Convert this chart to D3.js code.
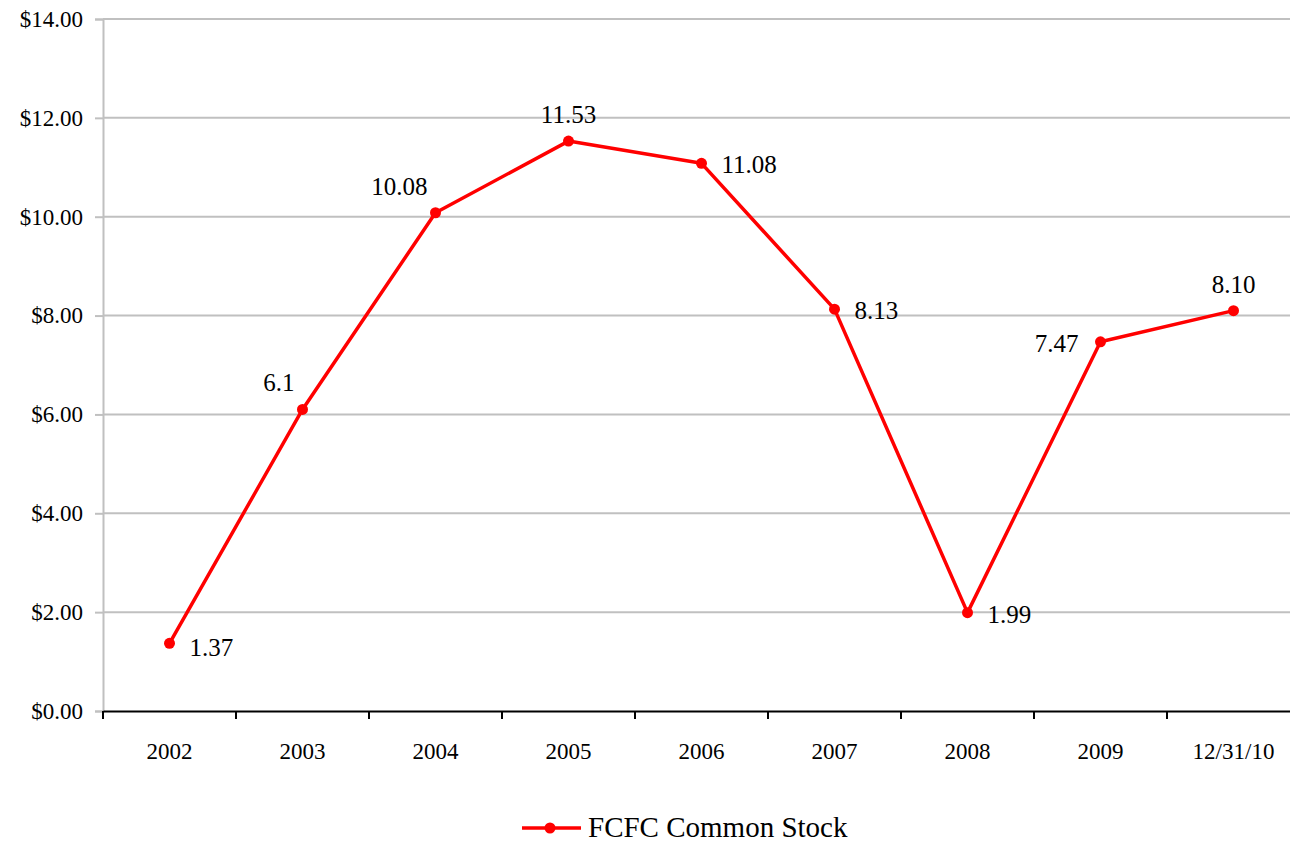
<!DOCTYPE html>
<html><head><meta charset="utf-8">
<script src="https://cdn.jsdelivr.net/npm/d3@7"></script>
<style>body{margin:0;background:#fff}svg{display:block}</style>
</head><body><svg id="c" width="1290" height="845" font-family="Liberation Serif"></svg>
<script>
const categories = ["2002","2003","2004","2005","2006","2007","2008","2009","12/31/10"];
const values = [1.37, 6.1, 10.08, 11.53, 11.08, 8.13, 1.99, 7.47, 8.10];
const labels = ["1.37","6.1","10.08","11.53","11.08","8.13","1.99","7.47","8.10"];
const labelPos = ["br","tl","tl","t","r","r","r","l","t"];
const yTicks = [0,2,4,6,8,10,12,14];
const seriesName = "FCFC Common Stock";
const FONT = "Liberation Serif, Times New Roman, serif";

const svg = d3.select("#c");
const L=103, R=1300, T=19, B=711;
const x = d3.scaleBand().domain(categories).range([L,R]);
const y = d3.scaleLinear().domain([0,14]).range([B,T]);

svg.append("g").selectAll("line").data(yTicks.filter(d=>d>0)).join("line")
  .attr("x1",L).attr("x2",R).attr("y1",d=>y(d)).attr("y2",d=>y(d))
  .attr("stroke","#c0c0c0").attr("stroke-width",2);
const ya = svg.append("g").attr("transform",`translate(${L},0)`)
  .call(d3.axisLeft(y).tickValues(yTicks).tickFormat(d=>"$"+d.toFixed(2)).tickSize(8).tickPadding(12));
ya.attr("font-family",FONT).attr("font-size",23);
ya.select(".domain").attr("stroke","#c0c0c0").attr("stroke-width",2);
ya.selectAll(".tick line").attr("stroke","#c0c0c0").attr("stroke-width",2);
ya.selectAll("text").attr("fill","#000");
const xa = svg.append("g").attr("transform",`translate(0,${B})`)
  .call(d3.axisBottom(x).tickSize(0).tickPadding(32));
xa.attr("font-family",FONT).attr("font-size",23);
xa.select(".domain").attr("stroke","#000").attr("stroke-width",2);
xa.selectAll("text").attr("fill","#000");
svg.append("g").selectAll("line").data(categories).join("line")
  .attr("x1",d=>x(d)).attr("x2",d=>x(d)).attr("y1",B).attr("y2",B+8)
  .attr("stroke","#000").attr("stroke-width",2);

const cx = d=>x(d)+x.bandwidth()/2;
const line = d3.line().x((d,i)=>cx(categories[i])).y(d=>y(d));
svg.append("path").datum(values).attr("d",line).attr("fill","none")
  .attr("stroke","#ff0000").attr("stroke-width",3.5).attr("stroke-linejoin","round");
svg.append("g").selectAll("circle").data(values).join("circle")
  .attr("cx",(d,i)=>cx(categories[i])).attr("cy",d=>y(d)).attr("r",5.5).attr("fill","#ff0000");

const off = {br:[20,13,"start"],tl:[-8,-18,"end"],t:[0,-18,"middle"],r:[20,10,"start"],l:[-22,10,"end"]};
svg.append("g").selectAll("text").data(values).join("text")
  .attr("x",(d,i)=>cx(categories[i])+off[labelPos[i]][0])
  .attr("y",(d,i)=>y(d)+off[labelPos[i]][1])
  .attr("text-anchor",(d,i)=>off[labelPos[i]][2])
  .attr("font-size",25).attr("font-family",FONT).text((d,i)=>labels[i]);

const lg = svg.append("g");
lg.append("line").attr("x1",522).attr("x2",581).attr("y1",828).attr("y2",828).attr("stroke","#ff0000").attr("stroke-width",3.5);
lg.append("circle").attr("cx",550).attr("cy",828).attr("r",5.5).attr("fill","#ff0000");
lg.append("text").attr("x",588).attr("y",837).attr("font-size",29).attr("font-family",FONT).text(seriesName);
</script></body></html>
